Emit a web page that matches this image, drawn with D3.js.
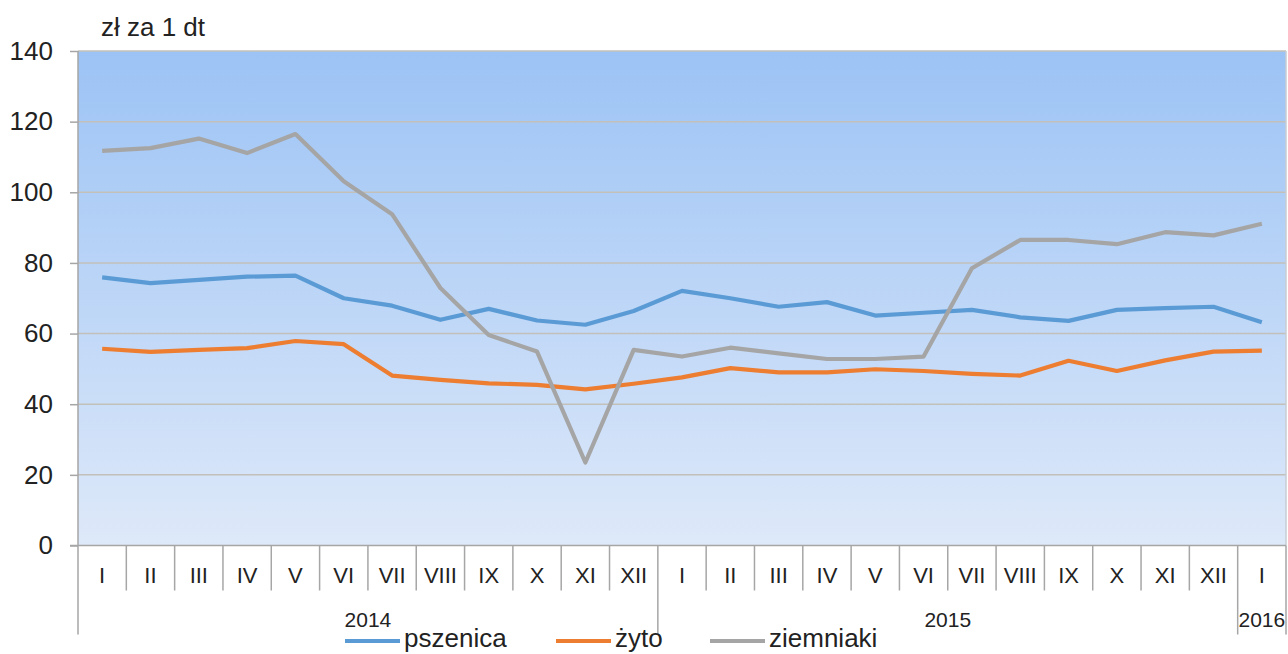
<!DOCTYPE html>
<html>
<head>
<meta charset="utf-8">
<script src="https://cdn.jsdelivr.net/npm/d3@7"></script>
<style>
  body { margin: 0; background: #fff; }
  svg { display: block; font-family: "Liberation Sans", Arial, sans-serif; }
</style>
</head>
<body>
<div id="chart"></div>
<script>
// data
var months = ["I","II","III","IV","V","VI","VII","VIII","IX","X","XI","XII",
              "I","II","III","IV","V","VI","VII","VIII","IX","X","XI","XII","I"];
var years = [
  {label: "2014", from: 0, to: 11},
  {label: "2015", from: 12, to: 23},
  {label: "2016", from: 24, to: 24}
];
var pszenica = [75.9,74.3,75.2,76.1,76.4,70.0,67.9,63.9,67.0,63.7,62.5,66.4,
                72.1,70.0,67.6,68.9,65.1,65.9,66.7,64.6,63.6,66.7,67.2,67.6,63.2];
var zyto = [55.7,54.8,55.4,55.9,57.9,57.0,48.1,46.9,45.9,45.5,44.2,45.8,
            47.6,50.2,49.0,49.0,49.9,49.4,48.6,48.1,52.3,49.4,52.4,54.9,55.2];
var ziemniaki = [111.7,112.5,115.2,111.1,116.5,103.1,93.8,72.9,59.6,54.9,23.5,55.4,
                 53.5,56.0,54.4,52.8,52.8,53.5,78.5,86.5,86.5,85.3,88.7,87.8,91.1];
var yTicks = [0,20,40,60,80,100,120,140];

var series = [
  {name: "pszenica", values: pszenica, color: "#5B9BD5"},
  {name: "żyto", values: zyto, color: "#ED7D31"},
  {name: "ziemniaki", values: ziemniaki, color: "#A5A5A5"}
];

var W = 1288, H = 654;
var margin = {top: 51, right: 2, bottom: 108.5, left: 78},
    width = W - margin.left - margin.right,
    height = H - margin.top - margin.bottom;

var svg = d3.select("#chart")
  .append("svg")
    .attr("width", W)
    .attr("height", H);

var grad = svg.append("defs").append("linearGradient")
    .attr("id", "bg")
    .attr("x1", 0).attr("y1", 0).attr("x2", 0).attr("y2", 1);
grad.append("stop").attr("offset", "0%").attr("stop-color", "#9CC3F5");
grad.append("stop").attr("offset", "100%").attr("stop-color", "#DEE9F9");

var chart = svg.append("g")
    .attr("transform", "translate(" + margin.left + "," + margin.top + ")");

var x = d3.scaleBand()
    .domain(d3.range(months.length))
    .range([0, width]);
var y = d3.scaleLinear()
    .domain([0, 140])
    .range([height, 0]);

chart.append("rect")
    .attr("width", width)
    .attr("height", height)
    .attr("fill", "url(#bg)");

// gridlines
chart.selectAll(".grid")
  .data(yTicks.filter(function(d) { return d > 0; }))
  .enter().append("line")
    .attr("x1", 0).attr("x2", width)
    .attr("y1", function(d) { return y(d); })
    .attr("y2", function(d) { return y(d); })
    .attr("stroke", "#C3C0BA")
    .attr("stroke-width", 1.5);

// right edge
chart.append("line")
    .attr("x1", width).attr("x2", width)
    .attr("y1", 0).attr("y2", height)
    .attr("stroke", "#C8CCD2").attr("stroke-width", 1.5);

// y axis
var yAxis = chart.append("g")
    .call(d3.axisLeft(y).tickValues(yTicks).tickSize(8).tickPadding(17));
yAxis.select(".domain").remove();
yAxis.selectAll(".tick line").attr("stroke", "#A6A6A6").attr("stroke-width", 1.5);
yAxis.selectAll(".tick text")
    .attr("font-size", 26)
    .attr("fill", "#222")
    .attr("font-family", "Liberation Sans, Arial, sans-serif");
chart.append("line")
    .attr("x1", 0).attr("x2", 0)
    .attr("y1", 0).attr("y2", height + 89)
    .attr("stroke", "#A6A6A6").attr("stroke-width", 1.5);

// x axis baseline
chart.append("line")
    .attr("x1", -8).attr("x2", width)
    .attr("y1", height).attr("y2", height)
    .attr("stroke", "#A6A6A6").attr("stroke-width", 1.5);

// month separators
var yearStarts = years.map(function(d) { return d.from; });
chart.selectAll(".sep")
  .data(d3.range(1, months.length + 1))
  .enter().append("line")
    .attr("x1", function(i) { return i < months.length ? x(i) : width; })
    .attr("x2", function(i) { return i < months.length ? x(i) : width; })
    .attr("y1", height)
    .attr("y2", function(i) {
      return (yearStarts.indexOf(i) >= 0 || i == months.length) ? height + 89 : height + 45;
    })
    .attr("stroke", "#A6A6A6").attr("stroke-width", 1.5);

// month labels
chart.selectAll(".month")
  .data(months)
  .enter().append("text")
    .attr("x", function(d, i) { return x(i) + x.bandwidth() / 2; })
    .attr("y", height + 37)
    .attr("text-anchor", "middle")
    .attr("font-size", 22)
    .attr("fill", "#222")
    .text(function(d) { return d; });

// year labels
chart.selectAll(".year")
  .data(years)
  .enter().append("text")
    .attr("x", function(d) { return (x(d.from) + x(d.to) + x.bandwidth()) / 2; })
    .attr("y", height + 81)
    .attr("text-anchor", "middle")
    .attr("font-size", 21)
    .attr("fill", "#222")
    .text(function(d) { return d.label; });

// series lines
var line = d3.line()
    .x(function(d, i) { return x(i) + x.bandwidth() / 2; })
    .y(function(d) { return y(d); });

chart.selectAll(".series")
  .data(series)
  .enter().append("path")
    .attr("fill", "none")
    .attr("stroke", function(d) { return d.color; })
    .attr("stroke-width", 4.2)
    .attr("stroke-linejoin", "round")
    .attr("d", function(d) { return line(d.values); });

// unit label
svg.append("text")
    .attr("x", 101)
    .attr("y", 36)
    .attr("font-size", 26)
    .attr("fill", "#222")
    .text("zł za 1 dt");

// legend
var legendX = [345, 556, 710];
var legend = svg.selectAll(".legend")
  .data(series)
  .enter().append("g")
    .attr("transform", function(d, i) { return "translate(" + legendX[i] + ",641)"; });
legend.append("line")
    .attr("x1", 0).attr("x2", 55)
    .attr("stroke", function(d) { return d.color; })
    .attr("stroke-width", 4.2);
legend.append("text")
    .attr("x", 59)
    .attr("y", 6)
    .attr("font-size", 26)
    .attr("fill", "#222")
    .text(function(d) { return d.name; });
</script>
</body>
</html>
